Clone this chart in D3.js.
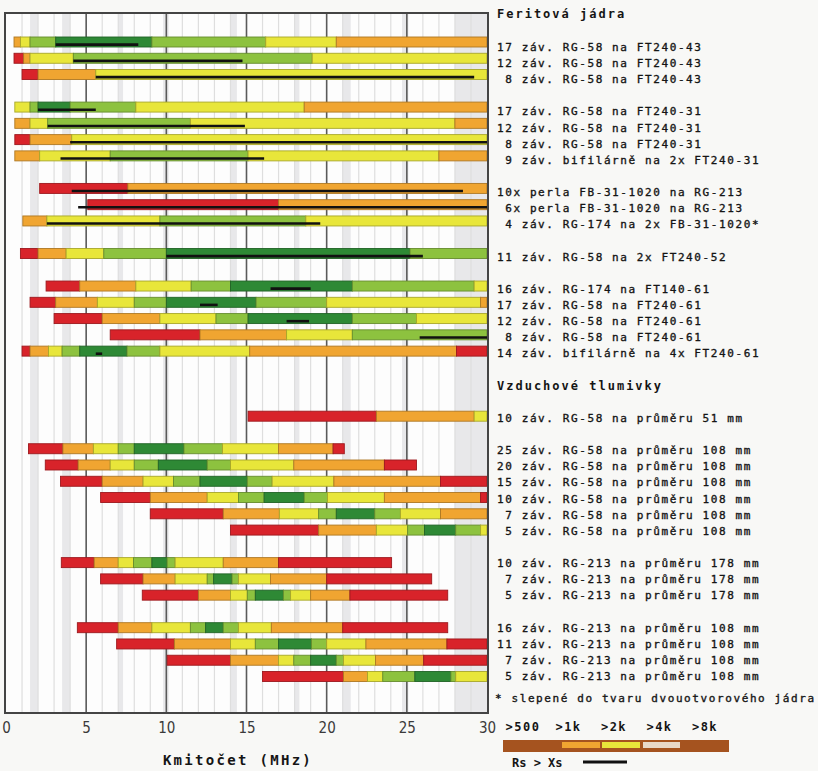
<!DOCTYPE html>
<html>
<head>
<meta charset="utf-8">
<script src="https://cdn.jsdelivr.net/npm/d3@7"></script>
<style>
  body { margin: 0; background: #f8f8f6; }
  svg text { font-family: "DejaVu Sans Mono", monospace; fill: #151515; }
</style>
</head>
<body>
<script>

// set dimensions for the svg
var width = 818, height = 771;
var plot = {left: 6, right: 487, top: 13, bottom: 713};

// impedance classes (|Z| in ohms), low to high
var levelColors = ['#d8232a', '#f0a531', '#e8e63a', '#8dc23f', '#2e8935'];
var legendLabels = ['>500', '>1k', '>2k', '>4k', '>8k'];

var ferriteLabels = [
  '17 záv. RG-58 na FT240-43',
  '12 záv. RG-58 na FT240-43',
  ' 8 záv. RG-58 na FT240-43',
  '17 záv. RG-58 na FT240-31',
  '12 záv. RG-58 na FT240-31',
  ' 8 záv. RG-58 na FT240-31',
  ' 9 záv. bifilárně na 2x FT240-31',
  '10x perla FB-31-1020 na RG-213',
  ' 6x perla FB-31-1020 na RG-213',
  ' 4 záv. RG-174 na 2x FB-31-1020*',
  '11 záv. RG-58 na 2x FT240-52',
  '16 záv. RG-174 na FT140-61',
  '17 záv. RG-58 na FT240-61',
  '12 záv. RG-58 na FT240-61',
  ' 8 záv. RG-58 na FT240-61',
  '14 záv. bifilárně na 4x FT240-61'
];
var airLabels = [
  '10 záv. RG-58 na průměru 51 mm',
  '25 záv. RG-58 na průměru 108 mm',
  '20 záv. RG-58 na průměru 108 mm',
  '15 záv. RG-58 na průměru 108 mm',
  '10 záv. RG-58 na průměru 108 mm',
  ' 7 záv. RG-58 na průměru 108 mm',
  ' 5 záv. RG-58 na průměru 108 mm',
  '10 záv. RG-213 na průměru 178 mm',
  ' 7 záv. RG-213 na průměru 178 mm',
  ' 5 záv. RG-213 na průměru 178 mm',
  '16 záv. RG-213 na průměru 108 mm',
  '11 záv. RG-213 na průměru 108 mm',
  ' 7 záv. RG-213 na průměru 108 mm',
  ' 5 záv. RG-213 na průměru 108 mm'
];
// how many rows in each block
var ferriteGroups = [3, 4, 3, 1, 5];
var airGroups = [1, 6, 3, 4];

// where each bar starts (MHz)
var starts = [0.5, 0.5, 1.0, 0.55, 0.55, 0.55, 0.55, 2.1, 5.1, 1.05, 0.9, 2.5, 1.5, 3.0, 6.5, 1.0,
              15.1, 1.4, 2.45, 3.4, 5.9, 9.0, 14.0, 3.45, 5.9, 8.5, 4.45, 6.9, 10.05, 16.0];
// end of each coloured segment (MHz)
var segEnds = [
  [0.9, 1.5, 3.1, 9.1, 16.2, 20.6, 30],
  [1.1, 1.5, 4.2, 19.1, 30],
  [2.0, 5.6, 30],
  [1.5, 2.0, 4.0, 8.1, 18.6, 30],
  [1.5, 2.6, 11.5, 28.0, 30],
  [1.5, 4.1, 30],
  [2.1, 6.5, 15.1, 27.0, 30],
  [7.6, 30],
  [17.0, 30],
  [2.55, 9.6, 18.7, 30],
  [2.0, 3.75, 6.1, 10.0, 25.2, 30],
  [4.6, 8.1, 11.55, 14.0, 21.6, 29.2, 30],
  [3.1, 5.7, 8.0, 10.0, 15.6, 20.0, 29.6, 30],
  [6.0, 9.6, 13.1, 15.1, 21.6, 25.6, 30],
  [12.1, 17.5, 21.6, 30],
  [1.5, 2.65, 3.5, 4.6, 7.55, 9.6, 15.2, 28.1, 30],
  [23.1, 29.2, 30],
  [3.55, 5.45, 7.0, 8.0, 11.1, 13.5, 17.0, 20.4, 21.1],
  [4.5, 6.5, 8.0, 9.5, 12.55, 14.0, 17.95, 23.6, 25.6],
  [6.0, 8.55, 10.45, 12.1, 15.05, 16.6, 20.45, 27.1, 30],
  [9.0, 12.55, 14.5, 16.1, 18.6, 20.05, 23.6, 29.6, 30],
  [13.55, 17.05, 19.5, 20.6, 23.0, 24.6, 27.1, 30],
  [19.5, 23.1, 25.05, 26.1, 28.05, 29.6, 30],
  [5.5, 7.0, 7.95, 9.1, 10.05, 10.55, 13.55, 17.0, 24.05],
  [8.55, 10.55, 12.55, 12.95, 14.1, 14.5, 16.5, 20.0, 26.55],
  [12.0, 14.0, 15.05, 15.55, 17.3, 17.75, 19.0, 21.45, 27.55],
  [7.0, 9.1, 11.5, 12.45, 13.55, 14.5, 16.55, 21.0, 27.55],
  [10.5, 14.0, 15.55, 17.0, 19.05, 20.0, 22.45, 27.5, 30],
  [14.0, 17.0, 17.95, 19.0, 20.6, 21.05, 23.05, 26.05, 30],
  [21.05, 22.55, 23.5, 25.5, 27.75, 28.05, 30]
];
// impedance class of each segment (index into levelColors)
var segLevels = [
  [1, 2, 3, 4, 3, 2, 1],
  [0, 1, 2, 3, 2],
  [0, 1, 2],
  [2, 3, 4, 3, 2, 1],
  [1, 2, 3, 2, 1],
  [0, 1, 2],
  [1, 2, 3, 2, 1],
  [0, 1],
  [0, 1],
  [1, 2, 3, 2],
  [0, 1, 2, 3, 4, 3],
  [0, 1, 2, 3, 4, 3, 2],
  [0, 1, 2, 3, 4, 3, 2, 1],
  [0, 1, 2, 3, 4, 3, 2],
  [0, 1, 2, 3],
  [0, 1, 2, 3, 4, 3, 2, 1, 0],
  [0, 1, 2],
  [0, 1, 2, 3, 4, 3, 2, 1, 0],
  [0, 1, 2, 3, 4, 3, 2, 1, 0],
  [0, 1, 2, 3, 4, 3, 2, 1, 0],
  [0, 1, 2, 3, 4, 3, 2, 1, 0],
  [0, 1, 2, 3, 4, 3, 2, 1],
  [0, 1, 2, 3, 4, 3, 2],
  [0, 1, 2, 3, 4, 3, 2, 1, 0],
  [0, 1, 2, 3, 4, 3, 2, 1, 0],
  [0, 1, 2, 3, 4, 3, 2, 1, 0],
  [0, 1, 2, 3, 4, 3, 2, 1, 0],
  [0, 1, 2, 3, 4, 3, 2, 1, 0],
  [0, 1, 2, 3, 4, 3, 2, 1, 0],
  [0, 1, 2, 3, 4, 3, 2]
];
// range where Rs > Xs (black line), ferrite rows only
var rsGreater = [
  [3.1, 8.25], [4.2, 14.75], [5.6, 29.2], [2.0, 5.6], [2.6, 14.9], [4.0, 30], [3.4, 16.1],
  [4.1, 28.5], [4.5, 30], [2.55, 19.6], [10.0, 26.0], [16.5, 19.0], [12.1, 13.2],
  [17.5, 18.9], [25.8, 30], [5.6, 6.0]
];
// shaded amateur bands (MHz)
var hamBands = [[1.5, 2.0], [3.5, 4.0], [7.0, 7.3], [9.8, 10.15], [14.0, 14.4], [18.0, 18.3],
                [21.0, 21.5], [24.7, 25.1], [28.0, 30]];
var xTicks = [0, 5, 10, 15, 20, 25, 30];

// build the vertical slot of every row (blocks separated by an empty slot)
var rowSlot = [];
var slot = 0;
ferriteGroups.forEach(function(n, g) {
  if (g > 0) slot++;
  for (var k = 0; k < n; k++) rowSlot.push(slot++);
});
slot += 1;
var airHeaderSlot = slot;
slot += 2;
airGroups.forEach(function(n, g) {
  if (g > 0) slot++;
  for (var k = 0; k < n; k++) rowSlot.push(slot++);
});
var lastSlot = slot - 1;

var labels = ferriteLabels.concat(airLabels);
var rows = labels.map(function(l, i) {
  var segs = [];
  var from = starts[i];
  segEnds[i].forEach(function(e, j) {
    segs.push({x0: from, x1: e, level: segLevels[i][j]});
    from = e;
  });
  return {label: l, slot: rowSlot[i], segs: segs, rs: rsGreater[i] || null};
});

// scales
var xScale = d3.scaleLinear().domain([0, 30]).range([plot.left, plot.right]);
var yScale = d3.scaleLinear().domain([0, lastSlot]).range([42, 676.5]);
var yLabel = d3.scaleLinear().domain([0, lastSlot]).range([47, 676]);
var barH = 10;

var svg = d3.select('body').append('svg')
            .attr('width', width)
            .attr('height', height);

svg.append('rect')
   .attr('width', width).attr('height', height)
   .attr('fill', '#f8f8f6');

// plot background
svg.append('rect')
   .attr('x', plot.left - 1).attr('y', plot.top)
   .attr('width', plot.right - plot.left + 2).attr('height', plot.bottom - plot.top)
   .attr('fill', '#fdfdfd');

// shaded bands
svg.append('g').selectAll('rect')
   .data(hamBands)
   .enter().append('rect')
   .attr('x', function(d) { return xScale(d[0]); })
   .attr('width', function(d) { return xScale(d[1]) - xScale(d[0]); })
   .attr('y', plot.top)
   .attr('height', plot.bottom - plot.top)
   .attr('fill', '#e8e8ea');

// minor grid, every 1 MHz
svg.append('g').selectAll('line')
   .data(d3.range(1, 30).filter(function(d) { return d % 5 !== 0; }))
   .enter().append('line')
   .attr('x1', function(d) { return xScale(d); })
   .attr('x2', function(d) { return xScale(d); })
   .attr('y1', plot.top).attr('y2', plot.bottom)
   .attr('stroke', '#dedede')
   .attr('stroke-width', 1.2);

// major grid, every 5 MHz
svg.append('g').selectAll('line')
   .data([5, 10, 15, 20, 25])
   .enter().append('line')
   .attr('x1', function(d) { return xScale(d); })
   .attr('x2', function(d) { return xScale(d); })
   .attr('y1', plot.top).attr('y2', plot.bottom)
   .attr('stroke', '#5a5a5a')
   .attr('stroke-width', 1.6);

// bars
var rowG = svg.append('g').selectAll('g')
   .data(rows)
   .enter().append('g')
   .attr('transform', function(d) { return 'translate(0,' + yScale(d.slot) + ')'; });

rowG.selectAll('rect')
   .data(function(d) { return d.segs; })
   .enter().append('rect')
   .attr('x', function(d) { return xScale(d.x0); })
   .attr('width', function(d) { return xScale(d.x1) - xScale(d.x0); })
   .attr('y', -barH / 2)
   .attr('height', barH)
   .attr('fill', function(d) { return levelColors[d.level]; })
   .attr('stroke', function(d) { return d3.color(levelColors[d.level]).darker(0.9); })
   .attr('stroke-width', 0.9);

// Rs > Xs lines
rowG.filter(function(d) { return d.rs; })
   .append('line')
   .attr('x1', function(d) { return xScale(d.rs[0]); })
   .attr('x2', function(d) { return xScale(d.rs[1]); })
   .attr('y1', 2.6).attr('y2', 2.6)
   .attr('stroke', '#111')
   .attr('stroke-width', 2.6);

// plot frame
svg.append('rect')
   .attr('x', plot.left - 1).attr('y', plot.top)
   .attr('width', plot.right - plot.left + 2).attr('height', plot.bottom - plot.top)
   .attr('fill', 'none')
   .attr('stroke', '#444')
   .attr('stroke-width', 2);

// x axis
var xAxis = d3.axisBottom(xScale).tickValues(xTicks).tickSize(0).tickPadding(0);
var axisG = svg.append('g')
   .attr('transform', 'translate(0,' + (plot.bottom + 12) + ')')
   .call(xAxis);
axisG.select('.domain').remove();
axisG.selectAll('text')
   .attr('dy', '0.5em')
   .style('font-family', '"Liberation Sans Narrow", "DejaVu Sans Condensed", sans-serif')
   .style('font-size', '15px')
   .style('fill', '#3a3a3a');

svg.append('text')
   .attr('x', 238).attr('y', 765)
   .attr('text-anchor', 'middle')
   .style('font-size', '14px')
   .style('font-weight', 'bold')
   .style('letter-spacing', '2.3px')
   .text('Kmitočet (MHz)');

// row labels
var labelX = 497;
svg.append('g').selectAll('text')
   .data(rows)
   .enter().append('text')
   .attr('x', labelX)
   .attr('y', function(d) { return yLabel(d.slot); })
   .attr('dy', '0.36em')
   .style('font-size', '11px')
   .style('letter-spacing', '1.6px')
   .style('white-space', 'pre')
   .style('stroke', '#151515')
   .style('stroke-width', '0.35px')
   .text(function(d) { return d.label; });

// section titles
svg.append('text')
   .attr('x', labelX).attr('y', 18)
   .style('font-size', '12px').style('font-weight', 'bold')
   .style('letter-spacing', '2px')
   .text('Feritová jádra');
svg.append('text')
   .attr('x', labelX).attr('y', yLabel(airHeaderSlot))
   .attr('dy', '0.36em')
   .style('font-size', '12px').style('font-weight', 'bold')
   .style('letter-spacing', '2px')
   .text('Vzduchové tlumivky');
svg.append('text')
   .attr('x', labelX - 2).attr('y', 698)
   .attr('dy', '0.36em')
   .style('font-size', '11px')
   .style('letter-spacing', '1.6px')
   .style('stroke', '#151515')
   .style('stroke-width', '0.35px')
   .text('* slepené do tvaru dvouotvorového jádra');

// legend
var legX = d3.scalePoint().domain(legendLabels).range([523, 705]);
svg.append('g').selectAll('text')
   .data(legendLabels)
   .enter().append('text')
   .attr('x', function(d) { return legX(d); })
   .attr('y', 727)
   .attr('dy', '0.36em')
   .attr('text-anchor', 'middle')
   .style('font-size', '12px').style('font-weight', 'bold')
   .style('letter-spacing', '1.5px')
   .text(function(d) { return d; });

svg.append('rect')
   .attr('x', 503).attr('y', 740).attr('width', 226).attr('height', 12)
   .attr('fill', '#a5531f');
svg.append('g').selectAll('rect')
   .data([1, 2])
   .enter().append('rect')
   .attr('x', function(d, i) { return 562 + i * 40; })
   .attr('y', 742).attr('width', 38).attr('height', 6)
   .attr('fill', function(d) { return levelColors[d]; });
svg.append('rect')
   .attr('x', 643).attr('y', 742).attr('width', 37).attr('height', 6)
   .attr('fill', '#e8d8c8');

svg.append('text')
   .attr('x', 512).attr('y', 763)
   .attr('dy', '0.36em')
   .style('font-size', '12px').style('font-weight', 'bold')
   .text('Rs > Xs');
svg.append('line')
   .attr('x1', 583).attr('x2', 627).attr('y1', 762).attr('y2', 762)
   .attr('stroke', '#111').attr('stroke-width', 3);

</script>
</body>
</html>
